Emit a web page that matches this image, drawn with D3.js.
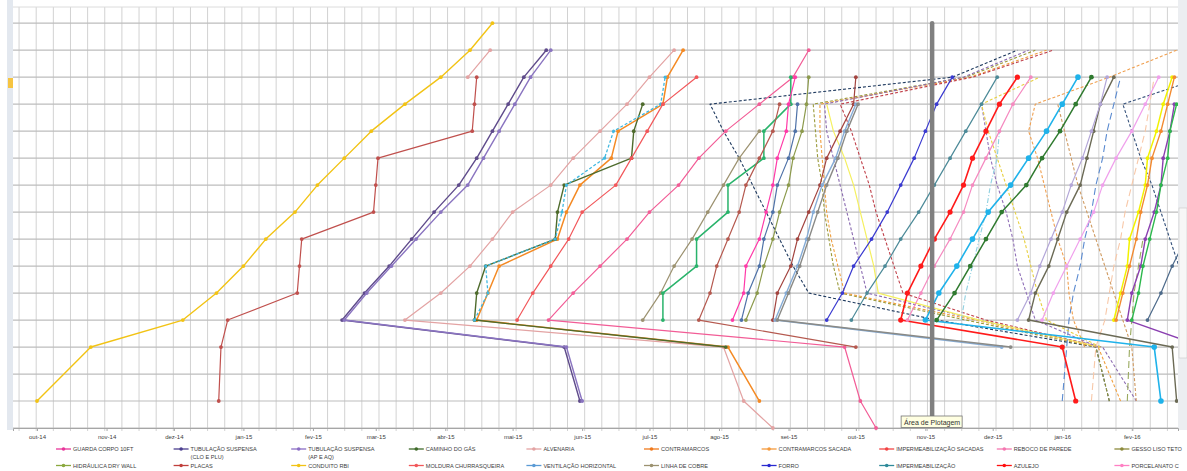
<!DOCTYPE html>
<html>
<head>
<meta charset="utf-8">
<script src="https://d3js.org/d3.v7.min.js"></script>
<style>
  body { margin: 0; background: #fff; }
  svg { display: block; font-family: "Liberation Sans Narrow", "Liberation Sans", Arial, sans-serif; }
</style>
</head>
<body>
<svg class="lob-chart" width="1187" height="471"></svg>

<script>
  // days counted from 01/10/2014, level = pavimento (0 = eixo)
  const conduitoRbi = [[0,1],[24,3],[65,4],[80,5],[92,6],[102,7],[115,8],[125,9],[137,10],[149,11],[164,12],[180,13],[193,14],[203,15]];
  const placas = [[81,1],[82,3],[85,4],[116,5],[117,6],[118,7],[150,8],[151,9],[152,10],[194,11],[195,12],[196,13]];
  const tubCloPlu = [[242,1],[235,3],[136,4],[146,5],[157,6],[167,7],[177,8],[188,9],[196,10],[203,11],[210,12],[217,13],[227,14]];
  const tubApAq = [[243,1],[236,3],[137,4],[147,5],[158,6],[169,7],[180,8],[192,9],[199,10],[206,11],[213,12],[220,13],[229,14]];
  const alvenaria = [[328,0],[315,1],[306,3],[164,4],[180,5],[193,6],[203,7],[212,8],[229,9],[239,10],[251,11],[263,12],[273,13],[284,14]];
  const alvenaria2 = [[192,13],[202,14]];
  const contramarcos = [[322,1],[308,3],[196,4],[201,5],[206,6],[232,7],[236,8],[242,9],[256,10],[259,11],[279,12],[281,13],[288,14]];
  const caminhoGas = [[307,3],[195,4],[196,5],[200,6],[231,7],[232,8],[235,9],[265,10],[266,11],[270,12]];
  const ventilacao = [[195,4],[201,5],[200,6],[231,7],[234,8],[236,9],[253,10],[257,11],[278,12],[280,13]];
  const moldura = [[214,4],[221,5],[229,6],[237,7],[243,8],[258,9],[265,10],[272,11],[279,12],[294,13]];
  const guardaCorpo = [[374,0],[367,1],[360,3],[228,4],[239,5],[251,6],[263,7],[273,8],[286,9],[295,10],[307,11],[322,12],[337,13],[344,14]];
  const linhaCobre = [[270,4],[278,5],[284,6],[292,7],[299,8],[306,9],[313,10],[322,11]];
  const serie12 = [[279,4],[279,5],[294,6],[294,7],[308,8],[308,9],[324,10],[324,11],[336,12],[336,13]];
  const serie13 = [[365,3],[295,4],[300,5],[303,6],[308,7],[313,8],[316,9],[322,10],[328,11],[331,12]];
  const serie14 = [[310,4],[315,5],[316,6],[322,7],[325,8],[328,9],[330,10],[334,11],[335,12],[338,13]];
  const serie15 = [[314,4],[317,5],[322,6],[324,7],[328,8],[330,9],[335,10],[338,11],[339,12]];
  const hidraulica = [[316,4],[321,5],[324,6],[328,7],[331,8],[335,9],[337,10],[341,11],[343,12],[344,13]];
  const serie17 = [[328,4],[330,5],[336,6],[339,7],[344,8],[349,9],[352,10],[358,11],[364,12],[365,13]];
  const serie18 = [[430,3],[329,4],[334,5],[339,6],[343,7],[346,8],[350,9],[356,10],[360,11],[365,12]];
  const serie19 = [[434,3],[330,4],[335,5],[340,6],[344,7],[348,8],[352,9],[357,10],[361,11],[366,12]];
  const forro = [[352,4],[359,5],[364,6],[372,7],[379,8],[385,9],[391,10],[396,11],[401,12],[408,13]];
  const impermeabilizacao = [[363,4],[370,5],[378,6],[385,7],[393,8],[400,9],[407,10],[414,11],[421,12],[428,13]];
  const azulejo = [[463,1],[457,3],[385,4],[388,5],[394,6],[400,7],[407,8],[413,9],[417,10],[423,11],[429,12],[437,13]];
  const reboco = [[388,4],[394,5],[400,6],[407,7],[413,8],[417,9],[423,10],[429,11],[435,12],[443,13]];
  const serie24 = [[501,1],[498,3],[396,4],[402,5],[410,6],[417,7],[424,8],[434,9],[442,10],[450,11],[457,12],[464,13]];
  const serie25 = [[401,4],[409,5],[416,6],[423,7],[430,8],[441,9],[448,10],[456,11],[463,12],[470,13]];
  const gesso = [[508,1],[506,3],[442,4],[445,5],[451,6],[455,7],[459,8],[465,9],[468,10],[471,11],[474,12],[480,13]];
  const serie27 = [[437,4],[443,5],[447,6],[452,7],[457,8],[461,9],[466,10],[470,11],[474,12],[477,13]];
  const serie28 = [[448,4],[453,5],[459,6],[465,7],[471,8],[475,9],[481,10],[488,11],[494,12],[500,13]];
  const serie29 = [[480,4],[483,5],[486,6],[487,7],[491,8],[494,9],[495,10],[499,11],[502,12],[506,13]];
  const contramarcosSacada = [[481,4],[484,5],[487,6],[490,7],[492,8],[495,9],[497,10],[501,11],[504,12],[507,13]];
  const serie31 = [[520,3],[486,4],[488,5],[492,6],[494,7],[498,8],[501,9],[502,10],[505,11],[507,12]];
  const serie32 = [[488,4],[491,5],[493,6],[496,7],[499,8],[501,9],[504,10],[505,11],[508,12]];
  const serie33 = [[495,4],[501,5],[506,6],[512,7]];

  // planned (dashed) lines
  const prevA = [[478,1],[472,3],[401,4],[344,5],[337,6],[331,7],[325,8],[319,9],[313,10],[306,11],[300,12],[408,13],[437,14]];
  const prevB = [[478,1],[472,3],[414,4],[358,5],[355,6],[353,7],[351,8],[350,9],[348,10],[347,11],[346,12],[414,13],[445,14]];
  const prevC = [[483,1],[473,3],[418,4],[360,5],[357,6],[354,7],[352,8],[351,9],[350,10],[349,11],[349,12],[416,13],[450,14]];
  const prevD = [[490,1],[475,3],[420,4],[370,5],[367,6],[364,7],[361,8],[358,9],[355,10],[352,11],[351,12],[413,13],[442,14]];
  const prevE = [[474,3],[423,4],[386,5],[382,6],[378,7],[374,8],[371,9],[367,10],[363,11],[358,12],[417,13],[453,14]];
  const prevF = [[474,3],[420,4],[375,5],[373,6],[370,7],[367,8],[364,9],[360,10],[355,11],[352,12]];
  const prevG = [[457,1],[459,3],[460,4],[462,5],[465,6],[467,7],[470,8],[472,9],[475,10],[477,11],[480,12],[483,13]];
  const prevH = [[467,3],[462,4],[460,5],[459,6],[455,7],[452,8],[449,9],[446,10],[442,11],[445,12],[478,13],[508,14]];
  const prevI = [[512,5],[509,6],[505,7],[501,8],[497,9],[492,10],[488,11],[484,12],[520,13]];
  const prevJ = [[473,3],[445,4],[441,5],[437,6],[435,7],[432,8],[428,9],[425,10],[423,11],[421,12]];
  const prevK = [[474,3],[450,4],[446,5],[443,6],[440,7],[436,8],[432,9],[428,10],[424,11],[421,12],[447,13]];
  const prevL = [[412,4],[414,5],[417,6],[420,7],[423,8],[425,9],[428,10],[429,11]];
  const prevM = [[470,1],[472,3],[476,4],[478,5],[480,6],[483,7],[485,8],[488,9],[491,10],[494,11],[496,12],[498,13]];
  const prevN = [[486,1],[487,3],[488,4],[489,5],[491,6],[493,7]];
  const prevO = [[490,1],[488,3],[484,4],[480,5],[476,6],[472,7],[468,8],[464,9],[461,10],[458,11],[455,12]];

  const marcoDia = 399;
  const marcoNiveis = [0.3, 15];

  const legendNames = [
    "GUARDA CORPO 10FT", "TUBULAÇÃO SUSPENSA\n(CLO E PLU)", "TUBULAÇÃO SUSPENSA\n(AP E AQ)", "CAMINHO DO GÁS",
    "ALVENARIA", "CONTRAMARCOS", "CONTRAMARCOS SACADA", "IMPERMEABILIZAÇÃO SACADAS", "REBOCO DE PAREDE", "GESSO LISO TETO",
    "HIDRÁULICA DRY WALL", "PLACAS", "CONDUITO RBI", "MOLDURA CHURRASQUEIRA", "VENTILAÇÃO HORIZONTAL",
    "LINHA DE COBRE", "FORRO", "IMPERMEABILIZAÇÃO", "AZULEJO", "PORCELANATO C"
  ];
  const legendColors = [
    "#e8359a", "#4b3f8f", "#8a6cc4", "#3f6a2a", "#e3a3a3", "#f07a1e", "#f59a3c", "#f24444", "#f577b0", "#8c8a3c",
    "#8aa83e", "#c0403c", "#f2c314", "#f2575a", "#5b9bd5", "#9c9270", "#2a2ad0", "#2f8a9a", "#ff1010", "#ff80c4"
  ];
  const mesesPt = ["jan","fev","mar","abr","mai","jun","jul","ago","set","out","nov","dez"];

  // styles: color, dash, stroke width, marker radius
  const solid = (c, w, r) => ({ color: c, dash: null, width: w || 1.2, r: r === undefined ? 1.9 : r });
  const dashed = (c, d) => ({ color: c, dash: d || "3,2", width: 1.1, r: 0 });

  const series = [
    { data: prevA, style: dashed("#1f3a5f") },
    { data: prevB, style: dashed("#9a9a3a") },
    { data: prevC, style: dashed("#f0a040") },
    { data: prevD, style: dashed("#8a6ab0") },
    { data: prevE, style: dashed("#c0404a") },
    { data: prevF, style: solid("#f5f060", 1.2, 0) },
    { data: prevG, style: dashed("#5a8ad0", "7,4") },
    { data: prevH, style: dashed("#f0a050") },
    { data: prevI, style: dashed("#34507a") },
    { data: prevJ, style: dashed("#9070b8") },
    { data: prevK, style: dashed("#e8d040") },
    { data: prevL, style: dashed("#8fd0e0", "5,2,1,2") },
    { data: prevM, style: dashed("#f8c8a8", "7,4") },
    { data: prevN, style: dashed("#9aaa60", "7,4") },
    { data: prevO, style: dashed("#d09a60") },
    { data: conduitoRbi, style: solid("#f2c314", 1.4) },
    { data: placas, style: solid("#c0504d") },
    { data: tubCloPlu, style: solid("#5f4b8b", 1.4) },
    { data: tubApAq, style: solid("#8a74c0", 1.4) },
    { data: alvenaria, style: solid("#e3a3a3") },
    { data: alvenaria2, style: solid("#e3a3a3") },
    { data: contramarcos, style: solid("#f48a24", 1.5) },
    { data: caminhoGas, style: solid("#4e6b2c", 1.4) },
    { data: ventilacao, style: { color: "#40b8e0", dash: "3,2", width: 1.3, r: 1.6 } },
    { data: moldura, style: solid("#f2575a") },
    { data: guardaCorpo, style: solid("#f25c96") },
    { data: linhaCobre, style: solid("#9c9270") },
    { data: serie12, style: solid("#29b36b", 1.5) },
    { data: serie13, style: solid("#b5594f") },
    { data: serie14, style: solid("#ff3aa8") },
    { data: serie15, style: solid("#4f72a8") },
    { data: hidraulica, style: solid("#8c9a4c") },
    { data: serie17, style: solid("#a3443f") },
    { data: serie18, style: solid("#86acd6", 1.4) },
    { data: serie19, style: solid("#8a8a86", 1.4) },
    { data: forro, style: solid("#3a3ad0") },
    { data: impermeabilizacao, style: solid("#4c8a98") },
    { data: azulejo, style: solid("#ff1a1a", 1.6, 2.6) },
    { data: reboco, style: solid("#f58ac0") },
    { data: serie24, style: solid("#1fb2ea", 1.6, 2.8) },
    { data: serie25, style: solid("#2f7a2f", 1.5, 2.4) },
    { data: gesso, style: solid("#6b6a55", 1.4) },
    { data: serie27, style: solid("#b3a6d8") },
    { data: serie28, style: solid("#f0a0ec") },
    { data: serie29, style: solid("#f2f200", 1.5) },
    { data: contramarcosSacada, style: solid("#f28a30", 1.4) },
    { data: serie31, style: solid("#8a3fb0", 1.4) },
    { data: serie32, style: solid("#2cb84c", 1.4) },
    { data: serie33, style: solid("#4d6a8a") }
  ];

  const svg = d3.select(".lob-chart");
  const plotLeft = 13, plotRight = 1178, plotTop = 7, plotBottom = 428;

  const baseDay = Date.UTC(2014, 9, 1);
  const toDate = d => new Date(baseDay + d * 864e5);

  const x = d3.scaleUtc().domain([toDate(-10.7), toDate(508.6)]).range([plotLeft, plotRight]);
  const y = d3.scaleLinear().domain([0, 15.6]).range([plotBottom, plotTop]);

  // excel side strips
  svg.append("rect").attr("x", 7).attr("y", 0).attr("width", 6).attr("height", 430).attr("fill", "#e3e8ef");
  svg.append("rect").attr("x", 8).attr("y", 78).attr("width", 5).attr("height", 10).attr("fill", "#f6c441");
  svg.append("rect").attr("x", plotRight).attr("y", 0).attr("width", 9).attr("height", 430).attr("fill", "#eceef1");
  svg.append("rect").attr("x", plotRight + 1).attr("y", 208).attr("width", 8).attr("height", 150)
    .attr("fill", "#f7f7f7").attr("stroke", "#c8c8c8").attr("stroke-width", 0.6);

  // gridlines
  const gridDays = d3.range(-8, 509, 7.64);
  svg.append("g").selectAll("line").data(gridDays).join("line")
    .attr("x1", d => x(toDate(d))).attr("x2", d => x(toDate(d)))
    .attr("y1", plotTop).attr("y2", plotBottom + 3)
    .attr("stroke", "#d2d2d2").attr("stroke-width", 1);

  svg.append("g").selectAll("line").data(d3.range(0, 16)).join("line")
    .attr("x1", plotLeft).attr("x2", plotRight)
    .attr("y1", d => y(d)).attr("y2", d => y(d))
    .attr("stroke", "#bdbdbd").attr("stroke-width", 1.2);

  svg.append("line").attr("x1", plotLeft).attr("x2", plotRight).attr("y1", plotTop).attr("y2", plotTop)
    .attr("stroke", "#dcdcdc");

  // x axis
  const xAxis = svg.append("g")
    .attr("transform", "translate(0," + plotBottom + ")")
    .call(d3.axisBottom(x)
      .ticks(d3.utcMonth.every(1))
      .tickSize(3)
      .tickFormat(d => mesesPt[d.getUTCMonth()] + "-" + String(d.getUTCFullYear()).slice(2)));
  xAxis.select(".domain").attr("stroke", "#a6a6a6");
  xAxis.selectAll(".tick line").attr("stroke", "#a6a6a6");
  xAxis.selectAll("text").attr("dy", "0.9em").style("font-size", "6px").attr("fill", "#404040");

  // series
  svg.append("clipPath").attr("id", "plotClip").append("rect")
    .attr("x", plotLeft).attr("y", 0).attr("width", plotRight - plotLeft).attr("height", plotBottom + 4);

  const line = d3.line().x(p => x(toDate(p[0]))).y(p => y(p[1]));
  const plot = svg.append("g").attr("clip-path", "url(#plotClip)");

  series.forEach(s => {
    plot.append("path")
      .datum(s.data)
      .attr("d", line)
      .attr("fill", "none")
      .attr("stroke", s.style.color)
      .attr("stroke-width", s.style.width)
      .attr("stroke-dasharray", s.style.dash)
      .attr("stroke-linejoin", "round");
    if (s.style.r > 0) {
      plot.append("g").selectAll("circle").data(s.data).join("circle")
        .attr("cx", p => x(toDate(p[0])))
        .attr("cy", p => y(p[1]))
        .attr("r", s.style.r)
        .attr("fill", s.style.color);
    }
  });

  // progress marker (thick grey bar)
  plot.append("line")
    .attr("x1", x(toDate(marcoDia))).attr("x2", x(toDate(marcoDia)))
    .attr("y1", y(marcoNiveis[0])).attr("y2", y(marcoNiveis[1]))
    .attr("stroke", "#808080").attr("stroke-width", 4.5).attr("stroke-linecap", "round");

  // legend
  const legend = svg.append("g");
  legendNames.forEach((name, i) => {
    const col = i % 10, row = Math.floor(i / 10);
    const lx = 56 + col * 117.6, ly = 449 + row * 16.5;
    legend.append("line").attr("x1", lx).attr("x2", lx + 15).attr("y1", ly).attr("y2", ly)
      .attr("stroke", legendColors[i]).attr("stroke-width", 1.3);
    legend.append("circle").attr("cx", lx + 7.5).attr("cy", ly).attr("r", 1.8).attr("fill", legendColors[i]);
    const t = legend.append("text").attr("x", lx + 17).attr("y", ly + 2)
      .style("font-size", "5.6px").attr("fill", "#404040");
    name.split("\n").forEach((part, k) => {
      t.append("tspan").attr("x", lx + 17).attr("dy", k === 0 ? 0 : 7.5).text(part);
    });
  });

  // excel tooltip
  const tip = svg.append("g").attr("transform", "translate(" + (x(toDate(marcoDia)) - 31) + ",416)");
  tip.append("rect").attr("width", 61).attr("height", 11.5).attr("fill", "#ffffe1")
    .attr("stroke", "#767676").attr("stroke-width", 0.8);
  tip.append("text").attr("x", 3).attr("y", 8.5).style("font-size", "7px").attr("fill", "#333")
    .text("Área de Plotagem");
</script>
</body>
</html>
